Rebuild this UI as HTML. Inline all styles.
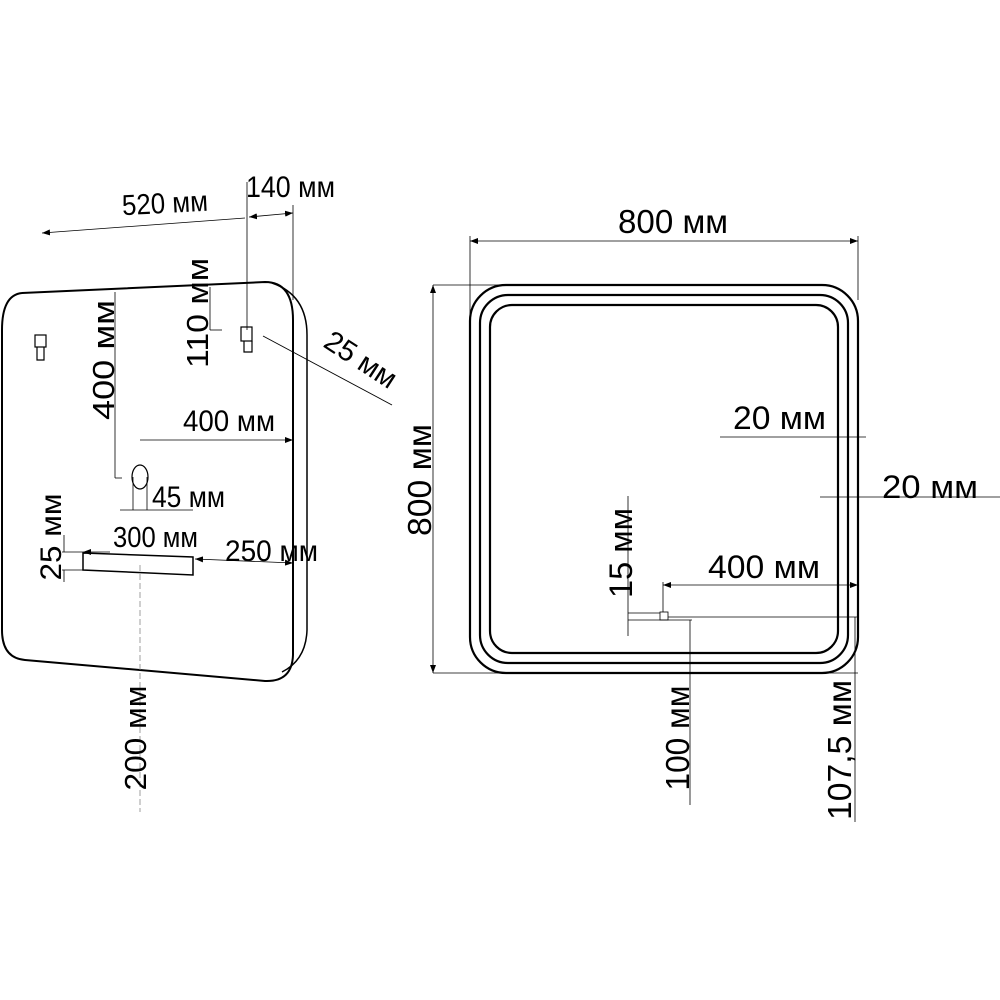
<!DOCTYPE html>
<html><head><meta charset="utf-8"><style>
html,body{margin:0;padding:0;background:#fff;}
svg{display:block;}
text{font-family:"Liberation Sans",sans-serif;fill:#000;}
</style></head><body>
<svg width="1000" height="1000" viewBox="0 0 1000 1000" xmlns="http://www.w3.org/2000/svg">
<defs>
<marker id="a" markerWidth="8" markerHeight="6" refX="8" refY="3" orient="auto-start-reverse" markerUnits="userSpaceOnUse"><path d="M0,0 L8,3 L0,6z" fill="#000"/></marker>
</defs>
<g fill="none" stroke="#000">
<path d="M22,293 L265,282 Q293,282 293,320 L293,655 Q292,682 265,681 L25,660 Q2,658 2,630 L2,330 Q2,295 22,293" stroke-width="2"/>
<path d="M272,283 Q307,295 307,335 L307,630 Q306,660 282,672" stroke-width="1.5"/>
<line x1="42" y1="233" x2="245" y2="218" stroke-width="0.8" marker-start="url(#a)"/>
<line x1="249" y1="217" x2="293" y2="213" stroke-width="0.8" marker-start="url(#a)" marker-end="url(#a)"/>
<line x1="247" y1="182" x2="247" y2="330" stroke-width="0.8"/>
<line x1="293" y1="205" x2="293" y2="300" stroke-width="0.8"/>
<line x1="115" y1="292" x2="115" y2="478" stroke-width="0.8"/>
<line x1="115" y1="478" x2="122" y2="478" stroke-width="0.8"/>
<line x1="210" y1="287" x2="210" y2="330" stroke-width="0.8"/>
<line x1="210" y1="330" x2="222" y2="330" stroke-width="0.8"/>
<rect x="241" y="327" width="11" height="14" stroke-width="1.2"/>
<path d="M244,341 L244,352 L252,352 L252,341" stroke-width="1.2"/>
<rect x="35" y="335" width="11" height="12" stroke-width="1.2"/>
<path d="M37,347 L37,360 L44,360 L44,347" stroke-width="1.2"/>
<line x1="263" y1="336" x2="392" y2="405" stroke-width="0.9"/>
<line x1="140" y1="440" x2="293" y2="440" stroke-width="0.8" marker-end="url(#a)"/>
<ellipse cx="140" cy="477" rx="8" ry="12" stroke-width="1.2"/>
<line x1="133" y1="477" x2="133" y2="510" stroke-width="0.8"/>
<line x1="147" y1="477" x2="147" y2="510" stroke-width="0.8"/>
<line x1="120" y1="510" x2="193" y2="510" stroke-width="0.8"/>
<path d="M83,553 L193,557 L193,575 L83,570 Z" stroke-width="1.5"/>
<line x1="83" y1="552" x2="110" y2="552" stroke-width="0.8" marker-start="url(#a)"/>
<line x1="195" y1="559" x2="293" y2="563" stroke-width="0.8" marker-start="url(#a)" marker-end="url(#a)"/>
<line x1="62" y1="552" x2="83" y2="552" stroke-width="0.8"/>
<line x1="62" y1="570" x2="83" y2="570" stroke-width="0.8"/>
<line x1="64" y1="535" x2="64" y2="552" stroke-width="0.8"/>
<line x1="64" y1="570" x2="64" y2="582" stroke-width="0.8"/>
<line x1="140" y1="565" x2="140" y2="812" stroke="#888" stroke-width="0.8" stroke-dasharray="6,3"/>
<rect x="470" y="285" width="388" height="388" rx="36" stroke-width="2.2"/>
<rect x="480" y="295" width="368" height="368" rx="28" stroke-width="2.2"/>
<rect x="490" y="305" width="348" height="348" rx="22" stroke-width="2.2"/>
<line x1="470" y1="241" x2="858" y2="241" stroke-width="0.8" marker-start="url(#a)" marker-end="url(#a)"/>
<line x1="470" y1="236" x2="470" y2="330" stroke-width="0.8"/>
<line x1="858" y1="236" x2="858" y2="300" stroke-width="0.8"/>
<line x1="433" y1="285" x2="433" y2="673" stroke-width="0.8" marker-start="url(#a)" marker-end="url(#a)"/>
<line x1="433" y1="285" x2="500" y2="285" stroke-width="0.8"/>
<line x1="433" y1="673" x2="500" y2="673" stroke-width="0.8"/>
<line x1="720" y1="437" x2="866" y2="437" stroke-width="0.8"/>
<line x1="820" y1="497" x2="1000" y2="497" stroke-width="0.8"/>
<line x1="628" y1="496" x2="628" y2="636" stroke-width="0.8"/>
<line x1="628" y1="613" x2="660" y2="613" stroke-width="0.8"/>
<line x1="628" y1="620" x2="692" y2="620" stroke-width="0.8"/>
<rect x="660" y="612" width="8" height="8" stroke-width="0.8"/>
<line x1="668" y1="617" x2="858" y2="617" stroke-width="0.8"/>
<line x1="663" y1="582" x2="663" y2="612" stroke-width="0.8"/>
<line x1="663" y1="585" x2="858" y2="585" stroke-width="0.8" marker-start="url(#a)" marker-end="url(#a)"/>
<line x1="690" y1="620" x2="690" y2="805" stroke-width="0.8"/>
<line x1="855" y1="617" x2="855" y2="822" stroke-width="0.8"/>
<line x1="830" y1="673" x2="858" y2="673" stroke-width="0.8"/>
</g>
<g lengthAdjust="spacingAndGlyphs">
<text x="122" y="213" font-size="29" lengthAdjust="spacingAndGlyphs" textLength="86" transform="rotate(-3 165 205)">520 мм</text>
<text x="246" y="197" font-size="30" lengthAdjust="spacingAndGlyphs" textLength="89">140 мм</text>
<text transform="translate(208,313) rotate(-90)" font-size="31" text-anchor="middle" lengthAdjust="spacingAndGlyphs" textLength="110">110 мм</text>
<text transform="translate(114,360) rotate(-90)" font-size="31" text-anchor="middle" lengthAdjust="spacingAndGlyphs" textLength="120">400 мм</text>
<text transform="translate(322,346) rotate(33)" font-size="29" lengthAdjust="spacingAndGlyphs" textLength="80">25 мм</text>
<text x="183" y="431" font-size="30" lengthAdjust="spacingAndGlyphs" textLength="92">400 мм</text>
<text x="152" y="507" font-size="30" lengthAdjust="spacingAndGlyphs" textLength="73">45 мм</text>
<text x="113" y="547" font-size="29" lengthAdjust="spacingAndGlyphs" textLength="85">300 мм</text>
<text x="225" y="561" font-size="30" lengthAdjust="spacingAndGlyphs" textLength="93">250 мм</text>
<text transform="translate(61,537) rotate(-90)" font-size="30" text-anchor="middle" lengthAdjust="spacingAndGlyphs" textLength="87">25 мм</text>
<text transform="translate(146,738) rotate(-90)" font-size="31" text-anchor="middle" lengthAdjust="spacingAndGlyphs" textLength="105">200 мм</text>
<text x="618" y="233" font-size="33" lengthAdjust="spacingAndGlyphs" textLength="110">800 мм</text>
<text transform="translate(431,480) rotate(-90)" font-size="33" text-anchor="middle" lengthAdjust="spacingAndGlyphs" textLength="112">800 мм</text>
<text x="733" y="429" font-size="32" lengthAdjust="spacingAndGlyphs" textLength="93">20 мм</text>
<text x="882" y="498" font-size="32" lengthAdjust="spacingAndGlyphs" textLength="96">20 мм</text>
<text transform="translate(632,553) rotate(-90)" font-size="32" text-anchor="middle" lengthAdjust="spacingAndGlyphs" textLength="90">15 мм</text>
<text x="708" y="578" font-size="32" lengthAdjust="spacingAndGlyphs" textLength="112">400 мм</text>
<text transform="translate(689,738) rotate(-90)" font-size="33" text-anchor="middle" lengthAdjust="spacingAndGlyphs" textLength="105">100 мм</text>
<text transform="translate(851,750) rotate(-90)" font-size="33" text-anchor="middle" lengthAdjust="spacingAndGlyphs" textLength="140">107,5 мм</text>
</g>
</svg>
</body></html>
